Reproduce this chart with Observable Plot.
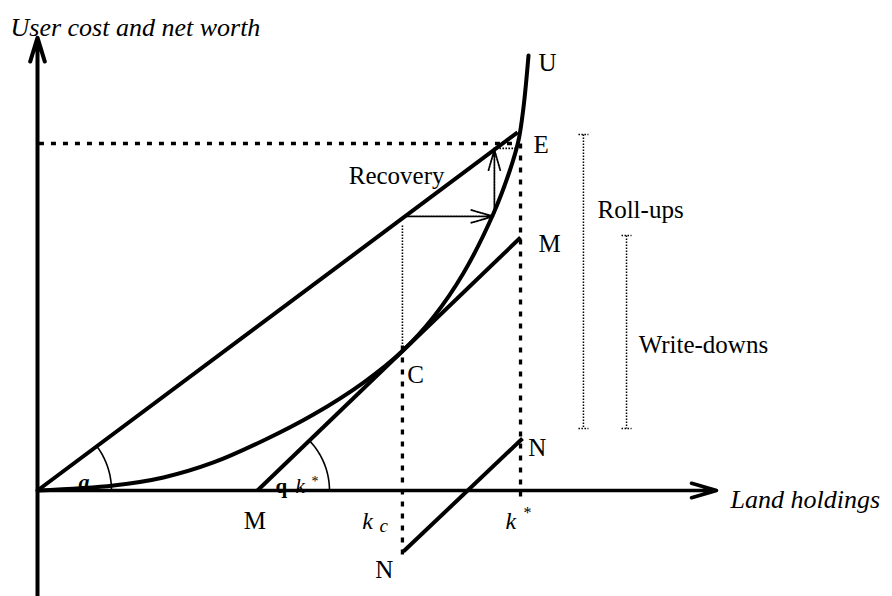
<!DOCTYPE html>
<html><head><meta charset="utf-8">
<script src="https://cdn.jsdelivr.net/npm/d3@7"></script>
<script src="https://cdn.jsdelivr.net/npm/@observablehq/plot@0.6"></script>
<style>
html,body{margin:0;padding:0;background:#fff;}
svg text{font-family:"Liberation Serif","Times New Roman",serif;}
</style>
</head><body><div id="chart"></div>
<script>
// ---- data (abstract units: k* = 1 on x, E level = 1 on y) ----
const curveK = [0, 0.157, 0.2603, 0.3636, 0.4669, 0.5702, 0.6736, 0.7541, 0.8182, 0.8802, 0.9421, 0.9752, 0.9938, 1.0041, 1.0145];
const curveV = [0, 0.0144, 0.0375, 0.0807, 0.1441, 0.2190, 0.3112, 0.4020, 0.5000, 0.6268, 0.7983, 0.9193, 1.0086, 1.1037, 1.2536];
// solid lines: ray OE, M-M, N-N  [x1, y1, x2, y2]
const solidLines = [[0, 0, 0.992, 1.032], [0.4545, 0, 0.998, 0.729], [0.756, -0.176, 1.002, 0.150]];
// dashed guides
const dashedLines = [[0.003, 1, 0.988, 1], [0.998, 1, 0.998, -0.037], [0.754, 0.418, 0.754, -0.202]];
const thinDotted = [[0.754, 0.764, 0.754, 0.418], [0.942, 0.986, 0.992, 0.986]];
const recoveryArrows = [[0.760, 0.790, 0.942, 0.790], [0.944, 0.798, 0.944, 0.982]];
// axes
const axisX = [0, 0, 1.403, 0];
const axisY = [0, -0.31, 0, 1.305];
// range bars [x, yTop, yBottom]
const rangeBars = [[1.128, 1.026, 0.179], [1.217, 0.735, 0.179]];
// labels
const romanText = ["Recovery", "U", "E", "M", "C", "N", "N", "M", "Roll-ups", "Write-downs"];
const romanX = [0.643, 1.035, 1.025, 1.035, 0.764, 1.014, 0.698, 0.426, 1.157, 1.242];
const romanY = [0.882, 1.210, 0.974, 0.686, 0.311, 0.098, -0.251, -0.110, 0.784, 0.395];
const axisTitleText = ["User cost and net worth", "Land holdings"];
const axisTitleX = [-0.0558, 1.432];
const axisTitleY = [1.311, -0.049];

// ---- geometry of the drawing ----
const OX = 37, OY = 490, PXX = 484, PXY = 347;
const W = 892, H = 596;
const xDomain = [(0 - OX) / PXX, (W - OX) / PXX];
const yDomain = [(OY - H) / PXY, OY / PXY];

const seg = a => a.map(([x1, y1, x2, y2]) => ({x1, y1, x2, y2}));
const curve = curveK.map((k, i) => ({k, v: curveV[i]}));

function arcPts(cx, cy, rPx, s) {
  const [x1, y1, x2, y2] = s;
  const a1 = Math.atan2((y2 - y1) * PXY, (x2 - x1) * PXX);
  const pts = [];
  for (let i = 0; i <= 40; i++) {
    const t = a1 * i / 40;
    pts.push({x: cx + rPx * Math.cos(t) / PXX, y: cy + rPx * Math.sin(t) / PXY});
  }
  return pts;
}
const arcA = arcPts(0, 0, 74, solidLines[0]);
const arcQ = arcPts(solidLines[1][0], 0, 72, solidLines[1]);

const bars = rangeBars.map(([x, y1, y2]) => ({x, y1, y2}));
const capHalf = 5 / PXX;
const caps = rangeBars.flatMap(([x, y1, y2]) => [
  {x1: x - capHalf, x2: x + capHalf, y1: y1, y2: y1},
  {x1: x - capHalf, x2: x + capHalf, y1: y2, y2: y2}
]);

const roman = romanText.map((t, i) => ({t, x: romanX[i], y: romanY[i]}));
const titles = axisTitleText.map((t, i) => ({t, x: axisTitleX[i], y: axisTitleY[i]}));

const F = "'Liberation Serif', 'Times New Roman', serif";
const txt = (data, o) => Plot.text(data, {x: "x", y: "y", text: "t", textAnchor: "start", lineAnchor: "bottom", fontFamily: F, fill: "black", ...o});
const lk = (data, o) => Plot.link(data, {x1: "x1", y1: "y1", x2: "x2", y2: "y2", stroke: "black", ...o});
// Plot.arrow wing length = headLength / 1.5 * strokeWidth
const head = (px, sw) => px * 1.5 / sw;

const chart = Plot.plot({
  width: W, height: H,
  margin: 0,
  x: {domain: xDomain, range: [0, W], axis: null},
  y: {domain: yDomain, range: [H, 0], axis: null},
  style: {background: "white", fontFamily: F},
  marks: [
    // axes
    Plot.arrow(seg([axisY]), {x1: "x1", y1: "y1", x2: "x2", y2: "y2", stroke: "black", strokeWidth: 4, headLength: head(25, 4), headAngle: 34}),
    Plot.arrow(seg([axisX]), {x1: "x1", y1: "y1", x2: "x2", y2: "y2", stroke: "black", strokeWidth: 3.6, headLength: head(26, 3.6), headAngle: 32}),
    // dashed guides
    lk(seg(dashedLines), {strokeWidth: 3.3, strokeDasharray: "5,7"}),
    lk(seg(thinDotted), {strokeWidth: 1.6, strokeDasharray: "1.6,1.4"}),
    // recovery arrows
    Plot.arrow(seg(recoveryArrows), {x1: "x1", y1: "y1", x2: "x2", y2: "y2", stroke: "black", strokeWidth: 1.8, strokeDasharray: "1.6,1.2", headLength: head(23, 1.8), headAngle: 32}),
    // range bars
    Plot.link(bars, {x1: "x", x2: "x", y1: "y1", y2: "y2", stroke: "black", strokeWidth: 1.5, strokeDasharray: "1.5,1.5"}),
    lk(caps, {strokeWidth: 1.5, strokeDasharray: "1.5,1.5"}),
    // solid lines and curve
    lk(seg(solidLines), {strokeWidth: 4}),
    Plot.line(curve, {x: "k", y: "v", curve: "catmull-rom", stroke: "black", strokeWidth: 4}),
    // angle arcs
    Plot.line(arcA, {x: "x", y: "y", stroke: "black", strokeWidth: 1.6}),
    Plot.line(arcQ, {x: "x", y: "y", stroke: "black", strokeWidth: 1.6}),
    // labels
    txt(titles, {fontSize: 26, fontStyle: "italic"}),
    txt(roman, {fontSize: 25}),
    txt([{t: "k", x: 0.671, y: -0.112}, {t: "k", x: 0.967, y: -0.112}], {fontSize: 24, fontStyle: "italic"}),
    txt([{t: "c", x: 0.7066, y: -0.121}], {fontSize: 19, fontStyle: "italic"}),
    txt([{t: "*", x: 1.004, y: -0.078}], {fontSize: 16}),
    txt([{t: "q", x: 0.4917, y: -0.0086}], {fontSize: 21, fontWeight: "bold"}),
    txt([{t: "k", x: 0.533, y: -0.0086}], {fontSize: 21, fontStyle: "italic"}),
    txt([{t: "*", x: 0.566, y: 0.012}], {fontSize: 14}),
    txt([{t: "a", x: 0.0847, y: 0.0029}], {fontSize: 22, fontWeight: "bold", fontStyle: "italic"})
  ]
});
document.getElementById("chart").appendChild(chart);
</script></body></html>
